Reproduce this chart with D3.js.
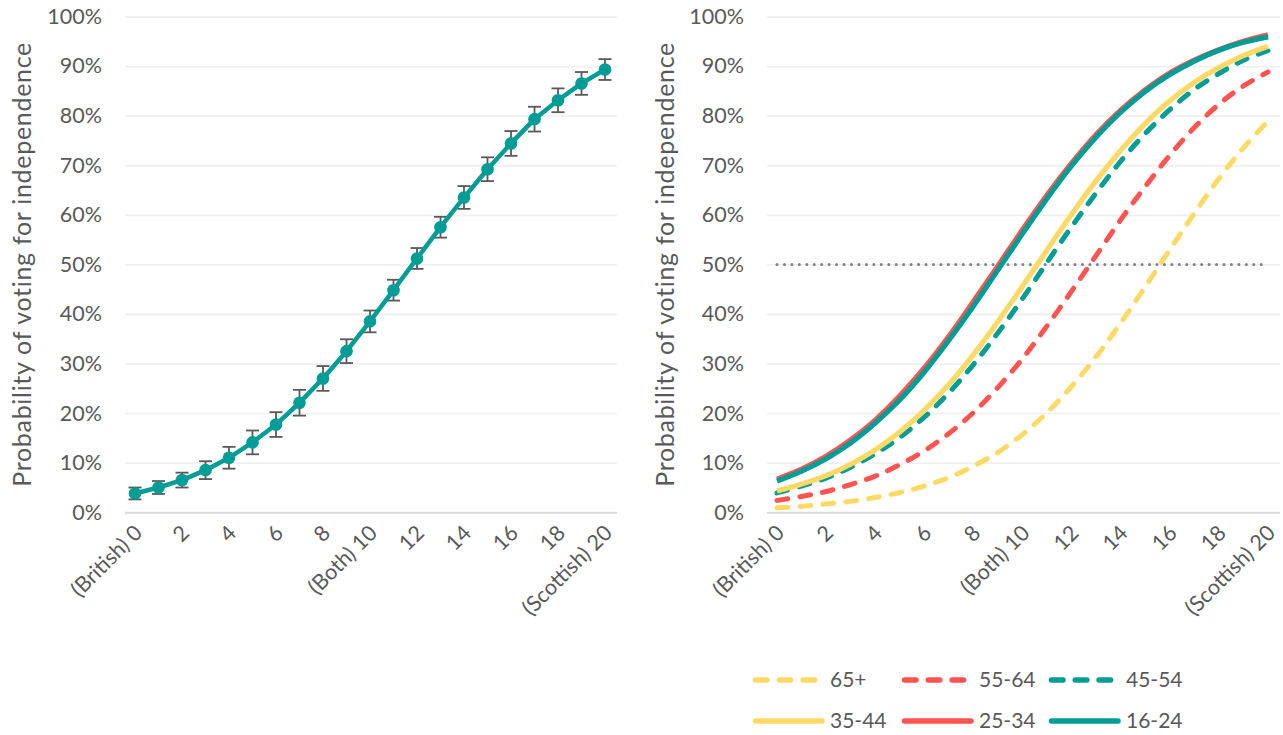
<!DOCTYPE html>
<html><head><meta charset="utf-8">
<script src="https://cdn.jsdelivr.net/npm/d3@7"></script>
<style>
html,body{margin:0;padding:0;background:#fff;}
svg{display:block;font-family:Lato,"Open Sans",sans-serif;}
</style></head>
<body>
<svg id="chart" width="1283" height="735"></svg>
<script>
// ---------- DATA ----------
const scaleIndex = d3.range(0, 21);
const tickValuesX = [0, 2, 4, 6, 8, 10, 12, 14, 16, 18, 20];
const tickLabelsX = {0: "(British) 0", 10: "(Both) 10", 20: "(Scottish) 20"};
const yTicks = [0, 10, 20, 30, 40, 50, 60, 70, 80, 90, 100];
const yTitle = "Probability of voting for independence";

// left panel: overall probability with confidence interval
const overall = [3.8, 5.0, 6.5, 8.5, 11.0, 14.1, 17.7, 22.1, 27.0, 32.5, 38.5, 44.8, 51.2, 57.5, 63.5, 69.2, 74.4, 79.3, 83.1, 86.5, 89.3];
const overallLow = [2.6, 3.7, 5.0, 6.7, 8.8, 11.7, 15.2, 19.5, 24.5, 30.1, 36.3, 42.7, 49.1, 55.4, 61.2, 66.8, 71.9, 76.8, 80.7, 84.2, 87.2];
const overallHigh = [5.0, 6.3, 8.0, 10.3, 13.2, 16.5, 20.2, 24.7, 29.5, 34.9, 40.7, 46.9, 53.3, 59.6, 65.8, 71.6, 76.9, 81.8, 85.5, 88.8, 91.4];

// right panel: by age group
const age65 = [0.9, 1.2, 1.7, 2.2, 3.0, 4.0, 5.3, 7.0, 9.3, 12.1, 15.7, 20.1, 25.4, 31.4, 38.2, 45.5, 53.0, 60.3, 67.3, 73.5, 78.9];
const age55 = [2.4, 3.2, 4.2, 5.6, 7.3, 9.6, 12.4, 15.9, 20.1, 25.2, 31.0, 37.6, 44.6, 51.8, 59.0, 65.7, 72.0, 77.6, 82.3, 86.0, 88.8];
const age45 = [3.9, 5.3, 6.9, 9.1, 11.8, 15.1, 19.2, 24.1, 29.8, 36.2, 43.1, 50.4, 57.6, 64.4, 70.8, 76.4, 81.2, 85.3, 88.5, 91.2, 93.1];
const age35 = [4.3, 5.7, 7.4, 9.7, 12.6, 16.2, 20.6, 25.8, 31.8, 38.5, 45.6, 52.9, 60.1, 66.9, 73.0, 78.4, 83.0, 86.7, 89.7, 92.1, 94.0];
const age25 = [6.7, 8.7, 11.3, 14.6, 18.6, 23.5, 29.1, 35.5, 42.5, 49.7, 57.0, 64.0, 70.4, 76.2, 81.1, 85.2, 88.6, 91.2, 93.3, 95.0, 96.3];
const age16 = [6.3, 8.3, 10.8, 14.0, 18.0, 22.7, 28.3, 34.7, 41.6, 48.9, 56.2, 63.3, 69.9, 75.7, 80.7, 84.9, 88.3, 91.0, 93.2, 94.8, 95.9];
const threshold = 50;

const seriesNames = ["65+", "55-64", "45-54", "35-44", "25-34", "16-24"];
const seriesValues = [age65, age55, age45, age35, age25, age16];

// ---------- STYLE ----------
const TEAL = "#009C96", RED = "#FF5450", YELLOW = "#FFD966", TEXT = "#595959";
const seriesStyle = [
  {color: YELLOW, dash: true}, {color: RED, dash: true}, {color: TEAL, dash: true},
  {color: YELLOW, dash: false}, {color: RED, dash: false}, {color: TEAL, dash: false}
];

const svg = d3.select("#chart");
const plotTop = 16.5, plotBottom = 512.3;
const y = d3.scaleLinear().domain([0, 100]).range([plotBottom, plotTop]);

function panel(left, right, titleX) {
  const g = svg.append("g");
  const x = d3.scaleLinear().domain([0, 20]).range([left + 10, right - 12]);
  const ya = g.append("g").attr("transform", `translate(${left},0)`)
    .call(d3.axisLeft(y).tickValues(yTicks).tickFormat(d => d + "%")
      .tickSizeInner(-(right - left)).tickSizeOuter(0).tickPadding(23));
  ya.select(".domain").remove();
  ya.selectAll(".tick line").attr("stroke", d => d === 0 ? "#D9D9D9" : "#F0F0F0")
    .attr("stroke-width", d => d === 0 ? 2 : 1.8);
  ya.selectAll(".tick text").attr("fill", TEXT).style("font-size", "21.5px")
    .style("font-family", "Lato, sans-serif");
  const xa = g.append("g").attr("transform", `translate(0,${plotBottom})`)
    .call(d3.axisBottom(x).tickValues(tickValuesX)
      .tickFormat(d => tickLabelsX[d] || String(d)).tickSize(0));
  xa.select(".domain").remove();
  xa.selectAll(".tick text").attr("fill", TEXT).style("font-size", "21.5px")
    .style("font-family", "Lato, sans-serif")
    .attr("text-anchor", "end").attr("dy", null).attr("y", null)
    .attr("transform", "translate(8,22) rotate(-45)");
  g.append("text").attr("transform", `translate(${titleX},${(plotTop + plotBottom) / 2}) rotate(-90)`)
    .attr("text-anchor", "middle").attr("fill", TEXT).style("font-size", "25px")
    .style("letter-spacing", "0.7px")
    .text(yTitle);
  return {g, x};
}

// ---------- LEFT ----------
const L = panel(125, 617, 31);
const lg = L.g, xl = L.x;
const eb = lg.append("g").attr("stroke", "#595959").attr("stroke-width", 1.8);
scaleIndex.forEach(i => {
  eb.append("line").attr("x1", xl(i)).attr("x2", xl(i)).attr("y1", y(overallLow[i])).attr("y2", y(overallHigh[i]));
  eb.append("line").attr("x1", xl(i) - 6.5).attr("x2", xl(i) + 6.5).attr("y1", y(overallLow[i])).attr("y2", y(overallLow[i]));
  eb.append("line").attr("x1", xl(i) - 6.5).attr("x2", xl(i) + 6.5).attr("y1", y(overallHigh[i])).attr("y2", y(overallHigh[i]));
});
lg.append("path").datum(overall)
  .attr("d", d3.line().x((d, i) => xl(i)).y(d => y(d)))
  .attr("fill", "none").attr("stroke", TEAL).attr("stroke-width", 4.5).attr("stroke-linejoin", "round");
lg.append("g").selectAll("circle").data(overall).join("circle")
  .attr("cx", (d, i) => xl(i)).attr("cy", d => y(d)).attr("r", 6.3).attr("fill", TEAL);

// ---------- RIGHT ----------
const R = panel(767, 1280, 674);
const rg = R.g, xr = R.x;
rg.append("line").attr("x1", xr(0)).attr("x2", xr(20)).attr("y1", y(threshold)).attr("y2", y(threshold))
  .attr("stroke", "#808080").attr("stroke-width", 3).attr("stroke-linecap", "round")
  .attr("stroke-dasharray", "0,7.45");
const curve = d3.line().x((d, i) => xr(i)).y(d => y(d)).curve(d3.curveCatmullRom);
seriesValues.forEach((vals, k) => {
  const s = seriesStyle[k];
  rg.append("path").datum(vals).attr("d", curve)
    .attr("fill", "none").attr("stroke", s.color)
    .attr("stroke-width", s.dash ? 5 : 5.2)
    .attr("stroke-linecap", s.dash ? "round" : "butt")
    .attr("stroke-dasharray", s.dash ? "11,12" : null);
});

// ---------- LEGEND ----------
const legCols = [753, 902, 1049], legRows = [680, 721];
seriesNames.forEach((name, k) => {
  const s = seriesStyle[k];
  const cx = legCols[k % 3], cy = legRows[Math.floor(k / 3)];
  const lgi = svg.append("g");
  lgi.append("line").attr("x1", cx + 2.5).attr("x2", s.dash ? cx + 62 : cx + 69)
    .attr("y1", cy).attr("y2", cy).attr("stroke", s.color).attr("stroke-width", 5.5)
    .attr("stroke-linecap", "round").attr("stroke-dasharray", s.dash ? "11.5,12.3" : null);
  lgi.append("text").attr("x", cx + 77).attr("y", cy).attr("dy", "0.35em")
    .attr("fill", TEXT).style("font-size", "21px").text(name);
});
</script>
</body></html>
